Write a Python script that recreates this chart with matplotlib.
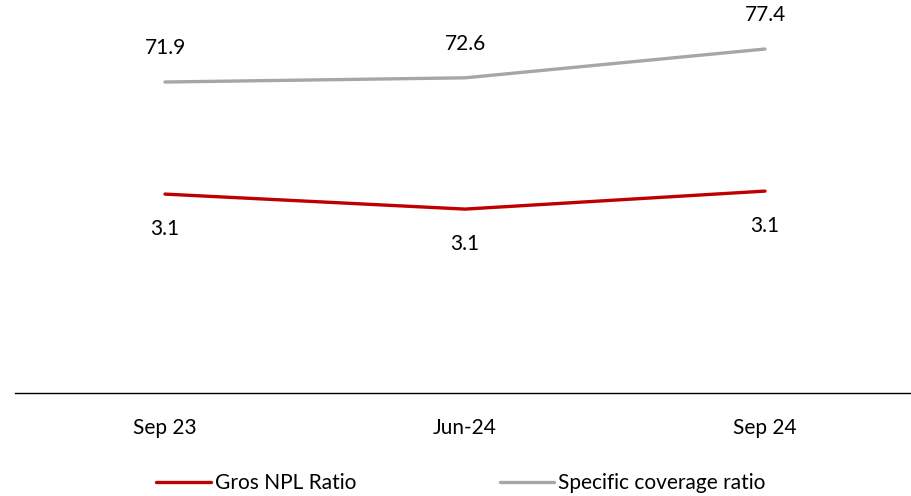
import matplotlib.pyplot as plt

plt.rcParams['font.family'] = ['Lato', 'DejaVu Sans']

periods = ['Sep 23', 'Jun-24', 'Sep 24']
npl_ratio = [3.13, 3.08, 3.14]
coverage_ratio = [71.9, 72.6, 77.4]

fig = plt.figure(figsize=(9.11, 4.96), dpi=100)
ax = fig.add_axes([15 / 911, 103 / 496, 905 / 911, 393 / 496])
ax2 = ax.twinx()

x = list(range(len(periods)))

# coverage ratio on the left scale, NPL ratio on a hidden right scale
l1, = ax2.plot(x, npl_ratio, color='#C00000', lw=2.4, solid_capstyle='round',
               label='Gros NPL Ratio')
l2, = ax.plot(x, coverage_ratio, color='#A6A6A6', lw=2.4, solid_capstyle='round',
              label='Specific coverage ratio')

for i, v in enumerate(coverage_ratio):
    ax.annotate(f'{v:.1f}', (i, v), xytext=(0, 24.5), textcoords='offset points',
                ha='center', va='center', fontsize=15, color='#000000')
for i, v in enumerate(npl_ratio):
    ax2.annotate(f'{v:.1f}', (i, v), xytext=(0, -25), textcoords='offset points',
                 ha='center', va='center', fontsize=15, color='#000000')

# axis runs a little past the right edge
ax.set_xlim(-0.5, 2.5 + 5 / 300)
ax.set_ylim(20.07, 85.57)
ax2.set_ylim(2.467, 3.777)

ax.set_xticks(x)
ax.set_xticklabels(periods, fontsize=15)
ax.tick_params(axis='x', length=0, pad=18)
ax.set_yticks([])
ax2.set_yticks([])

for a in (ax, ax2):
    for s in ('top', 'left', 'right'):
        a.spines[s].set_visible(False)
ax2.spines['bottom'].set_visible(False)
ax.spines['bottom'].set_color('#000000')
ax.spines['bottom'].set_linewidth(1.0)

fig.legend(handles=[l1, l2], loc='center', bbox_to_anchor=(461 / 911, 13 / 496),
           ncol=2, frameon=False, fontsize=15, handlelength=2.6,
           handletextpad=0.2, columnspacing=6.9)

fig.savefig('out.png', dpi=100)
